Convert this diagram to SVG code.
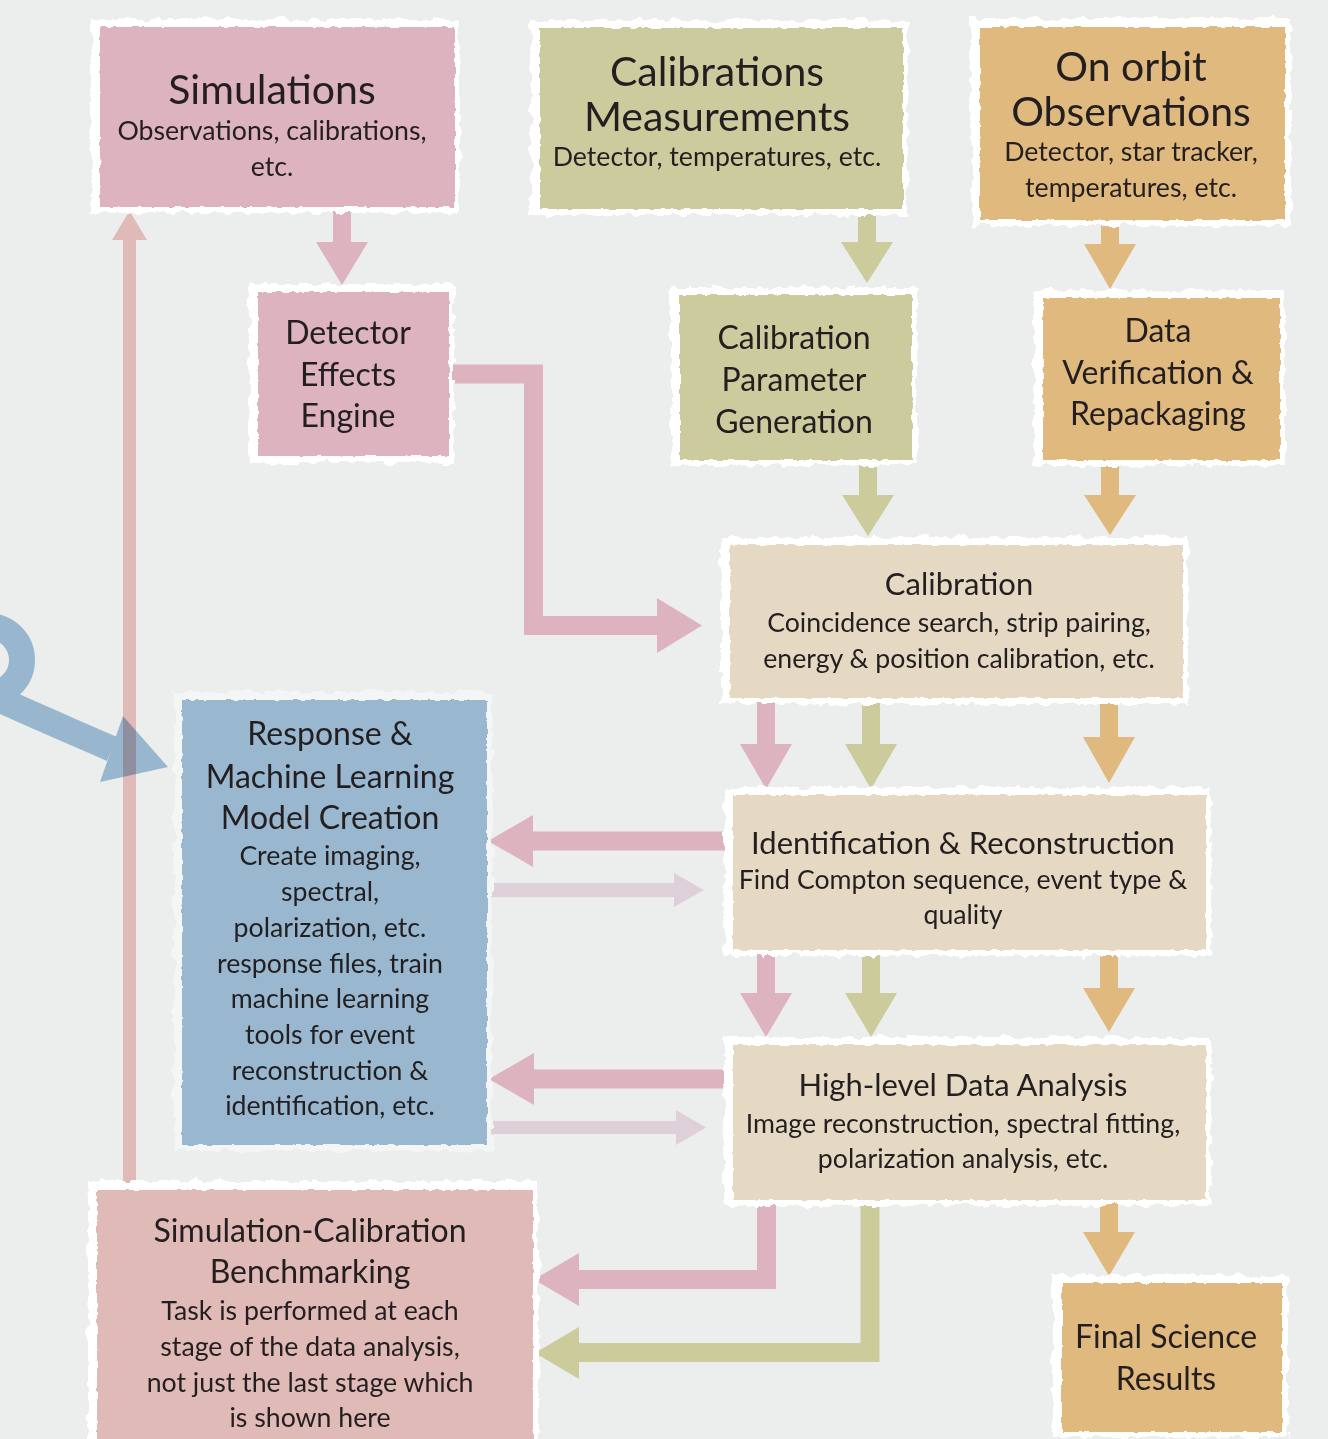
<svg xmlns="http://www.w3.org/2000/svg" width="1328" height="1439" viewBox="0 0 1328 1439">
  <defs>
    <!-- torn, brush-like edge for the white mats behind each card -->
    <filter id="rough" x="-6%" y="-10%" width="112%" height="120%">
      <feTurbulence type="fractalNoise" baseFrequency="0.09 0.07" numOctaves="3" seed="4" result="n"/>
      <feDisplacementMap in="SourceGraphic" in2="n" scale="10" xChannelSelector="R" yChannelSelector="G"/>
    </filter>
    <filter id="rough2" x="-4%" y="-6%" width="108%" height="112%">
      <feTurbulence type="fractalNoise" baseFrequency="0.12" numOctaves="2" seed="9" result="n"/>
      <feDisplacementMap in="SourceGraphic" in2="n" scale="4" xChannelSelector="R" yChannelSelector="G"/>
    </filter>
    <style>
      .mat { fill: #ffffff; filter: url(#rough); }
      .card { filter: url(#rough2); }
      .pink { fill: #dcb3bf; }
      .olive { fill: #cbcb9e; }
      .orange { fill: #e0b97e; }
      .beige { fill: #e6d9c4; }
      .blue { fill: #99b8cf; }
      .salmon { fill: #e0bab7; }
      .t { font-family: Lato, "Open Sans", "Liberation Sans", sans-serif; fill: #231f20; text-anchor: middle; }
      .h1 { font-size: 41px; }
      .h2 { font-size: 32px; }
      .h3 { font-size: 31px; }
      .b { font-size: 26.7px; }
      .ap { fill: #dcb3bf; }
      .ao { fill: #cbcb9b; }
      .ar { fill: #e0b97e; }
      .al { fill: #dfcfd8; }
      .sp { fill: none; stroke: #dcb3bf; stroke-width: 19; stroke-linejoin: miter; }
      .so { fill: none; stroke: #cbcb9b; stroke-width: 19; stroke-linejoin: miter; }
    </style>
  </defs>

  <rect x="0" y="0" width="1328" height="1439" fill="#eceeed"/>

  <!-- connectors -->
  <g id="connectors">
    <!-- benchmarking feeds back to simulations -->
    <rect x="123" y="238" width="13" height="960" fill="#e0bab7"/>
    <polygon points="112,240 129.5,211 147,240" fill="#e0bab7"/>

    <!-- incoming curved arrow into the response / ML card -->
    <g style="mix-blend-mode: multiply">
      <path d="M -46,660 A 34 34 0 1 1 -12,694 C 10,705 55,724 112,749" fill="none" stroke="#a4c4de" stroke-width="26"/>
      <polygon points="123,716 168,767 100,782" fill="#a4c4de"/>
    </g>

    <!-- simulations -> detector effects engine -->
    <path class="ap" d="M333,206 H351 V242 H368 L342,285 L316,242 H333 Z"/>
    <!-- calibration measurements -> parameter generation -->
    <path class="ao" d="M858,208 H876 V242 H893 L867,283 L841,242 H858 Z"/>
    <!-- on orbit observations -> data verification -->
    <path class="ar" d="M1101,220 H1119 V244 H1136 L1110,289 L1084,244 H1101 Z"/>
    <!-- parameter generation -> calibration -->
    <path class="ao" d="M859,458 H877 V495 H894 L868,536 L842,495 H859 Z"/>
    <!-- data verification -> calibration -->
    <path class="ar" d="M1101,458 H1119 V495 H1136 L1110,535 L1084,495 H1101 Z"/>
    <!-- detector effects engine -> calibration -->
    <path class="sp" d="M446,374 H533.5 V625.5 H660"/>
    <polygon class="ap" points="657,598 702,625.5 657,653"/>

    <!-- calibration -> identification & reconstruction -->
    <path class="ap" d="M757,700 H775 V744 H792 L766,789 L740,744 H757 Z"/>
    <path class="ao" d="M862,700 H880 V744 H897 L871,789 L845,744 H862 Z"/>
    <path class="ar" d="M1100,700 H1118 V737 H1135 L1109,783 L1083,737 H1100 Z"/>

    <!-- identification & reconstruction -> high-level analysis -->
    <path class="ap" d="M757,950 H775 V993 H792 L766,1037 L740,993 H757 Z"/>
    <path class="ao" d="M862,950 H880 V993 H897 L871,1037 L845,993 H862 Z"/>
    <path class="ar" d="M1100,950 H1118 V988 H1135 L1109,1032 L1083,988 H1100 Z"/>

    <!-- exchanges between the response / ML card and the reconstruction stages -->
    <path class="ap" d="M730,831.5 V850.5 H533 V867 L488,841 L533,815 V831.5 Z"/>
    <path class="al" d="M485,883 H674 V873 L704,890 L674,907 V897 H485 Z"/>
    <path class="ap" d="M730,1069.5 V1088.5 H534 V1105 L489,1079 L534,1053 V1069.5 Z"/>
    <path class="al" d="M485,1121 H676 V1110 L706,1127.5 L676,1145 V1134 H485 Z"/>

    <!-- high-level analysis -> benchmarking -->
    <path class="sp" d="M766.5,1200 V1279.5 H575"/>
    <polygon class="ap" points="579,1253 534,1279.5 579,1306"/>
    <path class="so" d="M870,1200 V1352.5 H575"/>
    <polygon class="ao" points="579,1327 535,1353 579,1379"/>

    <!-- high-level analysis -> final science results -->
    <path class="ar" d="M1100,1200 H1118 V1232 H1135 L1109,1276 L1083,1232 H1100 Z"/>
  </g>

  <!-- nodes -->
  <g id="simulations">
    <rect class="mat" x="91" y="19" width="369" height="194"/>
    <rect class="card pink" x="100" y="27" width="355" height="180"/>
    <text class="t h1" x="272" y="104">Simulations</text>
    <text class="t b" x="272" y="140">Observations, calibrations,</text>
    <text class="t b" x="272" y="176">etc.</text>
  </g>

  <g id="calibration-measurements">
    <rect class="mat" x="531" y="20" width="377" height="195"/>
    <rect class="card olive" x="540" y="28" width="363" height="181"/>
    <text class="t h1" x="717" y="86">Calibrations</text>
    <text class="t h1" x="717" y="131">Measurements</text>
    <text class="t b" x="717" y="166">Detector, temperatures, etc.</text>
  </g>

  <g id="on-orbit-observations">
    <rect class="mat" x="971" y="18" width="320" height="208"/>
    <rect class="card orange" x="980" y="27" width="305" height="193"/>
    <text class="t h1" x="1131" y="81">On orbit</text>
    <text class="t h1" x="1131" y="126">Observations</text>
    <text class="t b" x="1131" y="161">Detector, star tracker,</text>
    <text class="t b" x="1131" y="197">temperatures, etc.</text>
  </g>

  <g id="detector-effects-engine">
    <rect class="mat" x="249" y="284" width="205" height="179"/>
    <rect class="card pink" x="258" y="292" width="191" height="164"/>
    <text class="t h2" x="348" y="344">Detector</text>
    <text class="t h2" x="348" y="386">Effects</text>
    <text class="t h2" x="348" y="427">Engine</text>
  </g>

  <g id="calibration-parameter-generation">
    <rect class="mat" x="671" y="287" width="246" height="178"/>
    <rect class="card olive" x="680" y="295" width="232" height="165"/>
    <text class="t h2" x="794" y="349">Calibration</text>
    <text class="t h2" x="794" y="391">Parameter</text>
    <text class="t h2" x="794" y="433">Generation</text>
  </g>

  <g id="data-verification">
    <rect class="mat" x="1034" y="290" width="251" height="176"/>
    <rect class="card orange" x="1043" y="298" width="237" height="162"/>
    <text class="t h2" x="1158" y="342">Data</text>
    <text class="t h2" x="1158" y="384">Verification &amp;</text>
    <text class="t h2" x="1158" y="425">Repackaging</text>
  </g>

  <g id="calibration">
    <rect class="mat" x="721" y="537" width="467" height="167"/>
    <rect class="card beige" x="730" y="545" width="453" height="153"/>
    <text class="t h3" x="959" y="595">Calibration</text>
    <text class="t b" x="959" y="632">Coincidence search, strip pairing,</text>
    <text class="t b" x="959" y="668">energy &amp; position calibration, etc.</text>
  </g>

  <g id="identification-reconstruction">
    <rect class="mat" x="724" y="787" width="487" height="169"/>
    <rect class="card beige" x="733" y="795" width="473" height="155"/>
    <text class="t h3" x="963" y="854">Identification &amp; Reconstruction</text>
    <text class="t b" x="963" y="889">Find Compton sequence, event type &amp;</text>
    <text class="t b" x="963" y="924">quality</text>
  </g>

  <g id="high-level-analysis">
    <rect class="mat" x="724" y="1037" width="487" height="169"/>
    <rect class="card beige" x="733" y="1045" width="473" height="155"/>
    <text class="t h3" x="963" y="1096">High-level Data Analysis</text>
    <text class="t b" x="963" y="1133">Image reconstruction, spectral fitting,</text>
    <text class="t b" x="963" y="1168">polarization analysis, etc.</text>
  </g>

  <g id="response-ml-model">
    <rect class="mat" x="174" y="692" width="318" height="459" style="fill:#f4f6f6"/>
    <rect class="card blue" x="182" y="700" width="305" height="445"/>
    <text class="t h2" x="330" y="745">Response &amp;</text>
    <text class="t h2" x="330" y="788">Machine Learning</text>
    <text class="t h2" x="330" y="829">Model Creation</text>
    <text class="t b" x="330" y="865">Create imaging,</text>
    <text class="t b" x="330" y="901">spectral,</text>
    <text class="t b" x="330" y="937">polarization, etc.</text>
    <text class="t b" x="330" y="973">response files, train</text>
    <text class="t b" x="330" y="1008">machine learning</text>
    <text class="t b" x="330" y="1044">tools for event</text>
    <text class="t b" x="330" y="1080">reconstruction &amp;</text>
    <text class="t b" x="330" y="1115">identification, etc.</text>
  </g>

  <g id="benchmarking">
    <rect class="mat" x="88" y="1181" width="451" height="270"/>
    <rect class="card salmon" x="97" y="1190" width="436" height="260"/>
    <text class="t h2" x="310" y="1242">Simulation-Calibration</text>
    <text class="t h2" x="310" y="1283">Benchmarking</text>
    <text class="t b" x="310" y="1320">Task is performed at each</text>
    <text class="t b" x="310" y="1356">stage of the data analysis,</text>
    <text class="t b" x="310" y="1392">not just the last stage which</text>
    <text class="t b" x="310" y="1427">is shown here</text>
  </g>

  <g id="final-science-results">
    <rect class="mat" x="1053" y="1275" width="235" height="163"/>
    <rect class="card orange" x="1062" y="1283" width="220" height="149"/>
    <text class="t h2" x="1166" y="1348">Final Science</text>
    <text class="t h2" x="1166" y="1390">Results</text>
  </g>
</svg>
